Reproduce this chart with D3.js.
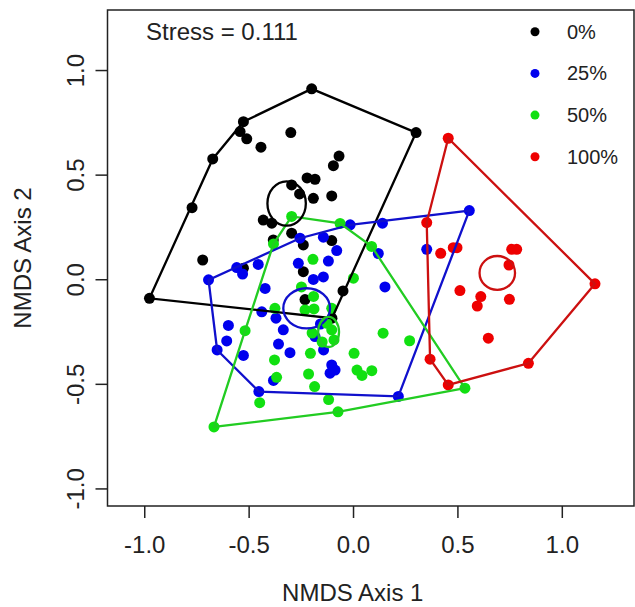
<!DOCTYPE html>
<html>
<head>
<meta charset="utf-8">
<script src="https://cdn.jsdelivr.net/npm/d3@7"></script>
<style>
  body { margin: 0; background: #fff; }
  svg text { font-family: "Liberation Sans", Arial, sans-serif; fill: #222; }
</style>
</head>
<body>
<svg id="chart" width="635" height="607"></svg>
<script>
// NMDS scores (axis 1, axis 2)
const groups = ['0%', '25%', '50%', '100%'];
const pointColors = ['#000000', '#0000ee', '#11e011', '#ee0000'];
const lineColors = ['#000000', '#1010cc', '#22cc22', '#cc1010'];

const black0 = [
  [-0.198, 0.910], [-0.525, 0.753], [-0.541, 0.706], [-0.509, 0.671], [-0.441, 0.631],
  [-0.298, 0.701], [-0.672, 0.575], [-0.067, 0.589], [-0.094, 0.543], [0.302, 0.701],
  [-0.220, 0.484], [-0.182, 0.478], [-0.294, 0.451], [-0.256, 0.408], [-0.190, 0.387],
  [-0.102, 0.398], [-0.771, 0.342], [-0.430, 0.283], [-0.389, 0.268], [-0.294, 0.220],
  [-0.238, 0.164], [-0.382, 0.188], [-0.102, 0.185], [-0.720, 0.092], [-0.525, 0.053],
  [-0.238, 0.036], [-0.048, -0.056], [-0.230, -0.097], [-0.975, -0.091], [-0.101, -0.186]
];
const blue25 = [
  [0.557, 0.328], [-0.014, 0.260], [0.141, 0.268], [-0.254, 0.196], [-0.142, 0.201],
  [-0.078, 0.137], [-0.118, 0.087], [0.121, 0.123], [0.153, -0.037], [0.353, 0.143],
  [-0.262, 0.076], [-0.454, 0.071], [-0.557, 0.056], [-0.529, 0.025], [-0.692, -0.003],
  [-0.421, -0.044], [-0.190, -0.001], [-0.142, 0.011], [-0.437, -0.156], [-0.369, -0.186],
  [-0.334, -0.242], [-0.357, -0.310], [-0.302, -0.351], [-0.182, -0.274], [-0.156, -0.214],
  [-0.141, -0.338], [-0.102, -0.410], [-0.086, -0.434], [-0.110, -0.449], [-0.597, -0.221],
  [-0.605, -0.295], [-0.651, -0.338], [-0.525, -0.364], [-0.381, -0.484], [-0.451, -0.537],
  [0.217, -0.560]
];
const green50 = [
  [-0.294, 0.300], [-0.062, 0.267], [-0.381, 0.169], [0.089, 0.157], [-0.192, 0.095],
  [0.002, 0.005], [-0.247, -0.037], [-0.189, -0.082], [-0.374, -0.139], [-0.230, -0.147],
  [-0.187, -0.142], [-0.102, -0.139], [-0.517, -0.246], [-0.125, -0.211], [-0.102, -0.242],
  [-0.091, -0.290], [-0.148, -0.300], [-0.196, -0.257], [0.144, -0.258], [0.271, -0.294],
  [0.005, -0.354], [-0.204, -0.354], [-0.376, -0.386], [-0.366, -0.469], [-0.213, -0.453],
  [-0.184, -0.513], [0.019, -0.434], [0.043, -0.460], [0.090, -0.437], [-0.117, -0.575],
  [-0.447, -0.590], [-0.072, -0.634], [-0.666, -0.706], [0.536, -0.521]
];
const red100 = [
  [0.353, 0.271], [0.420, 0.124], [0.480, 0.151], [0.498, 0.151], [0.760, 0.143],
  [0.784, 0.143], [0.747, 0.068], [0.512, -0.054], [0.612, -0.083], [0.595, -0.128],
  [0.749, -0.096], [0.648, -0.282], [1.159, -0.022], [0.369, -0.382], [0.840, -0.402],
  [0.456, 0.674], [0.456, -0.505]
];
const groupPoints = [black0, blue25, green50, red100];

// standard error ellipses: centre x, centre y, radius x, radius y
const ellipseCentres = [[-0.318, 0.362], [-0.222, -0.139], [-0.117, -0.252], [0.691, 0.030]];
const ellipseRadii = [[0.092, 0.106], [0.112, 0.096], [0.050, 0.072], [0.085, 0.081]];

const xTicks = [-1.0, -0.5, 0.0, 0.5, 1.0];
const yTicks = [-1.0, -0.5, 0.0, 0.5, 1.0];
const stressLabel = 'Stress = 0.111';

const svg = d3.select('#chart');
const box = { left: 107.5, right: 634, top: 10, bottom: 506 };

const x = d3.scaleLinear().domain([-1.176, 1.341]).range([box.left, 633]);
const y = d3.scaleLinear().domain([-1.084, 1.287]).range([box.bottom, box.top]);

// axes
const fmt = d => d.toFixed(1);
const xAxis = svg.append('g')
  .attr('transform', `translate(0,${box.bottom})`)
  .call(d3.axisBottom(x).tickValues(xTicks).tickFormat(fmt).tickSize(12).tickPadding(8));
xAxis.select('.domain').remove();
xAxis.selectAll('line').attr('stroke', '#222').attr('stroke-width', 1.5);
xAxis.selectAll('text').attr('font-size', 24).attr('fill', '#222')
  .attr('dy', null).attr('y', 47);

const yAxis = svg.append('g')
  .attr('transform', `translate(${box.left},0)`)
  .call(d3.axisLeft(y).tickValues(yTicks).tickFormat(fmt).tickSize(12));
yAxis.select('.domain').remove();
yAxis.selectAll('line').attr('stroke', '#222').attr('stroke-width', 1.5);
yAxis.selectAll('text').attr('font-size', 24).attr('fill', '#222')
  .attr('text-anchor', 'middle').attr('dy', null)
  .attr('x', 0).attr('y', -23.5)
  .attr('transform', 'rotate(-90)');

// plot frame
svg.append('rect')
  .attr('x', box.left).attr('y', box.top)
  .attr('width', box.right - box.left).attr('height', box.bottom - box.top)
  .attr('fill', 'none').attr('stroke', '#222').attr('stroke-width', 1.5);

// axis titles
svg.append('text')
  .attr('x', (box.left + box.right) / 2 - 18).attr('y', 601)
  .attr('text-anchor', 'middle').attr('font-size', 24)
  .text('NMDS Axis 1');
svg.append('text')
  .attr('transform', `translate(31,${(box.top + box.bottom) / 2}) rotate(-90)`)
  .attr('text-anchor', 'middle').attr('font-size', 24)
  .text('NMDS Axis 2');

// points, drawn group by group so later groups sit on top
const plot = svg.append('g');
groupPoints.forEach((pts, i) => {
  plot.append('g').selectAll('circle')
    .data(pts)
    .enter()
    .append('circle')
    .attr('cx', d => x(d[0]))
    .attr('cy', d => y(d[1]))
    .attr('r', 5.5)
    .attr('fill', pointColors[i]);
});

// convex hulls
const line = d3.line().x(d => x(d[0])).y(d => y(d[1]));
groupPoints.forEach((pts, i) => {
  const hull = d3.polygonHull(pts);
  plot.append('path')
    .attr('d', line(hull) + 'Z')
    .attr('fill', 'none')
    .attr('stroke', lineColors[i])
    .attr('stroke-width', 2.3);
});

// ellipses
ellipseCentres.forEach((c, i) => {
  plot.append('ellipse')
    .attr('cx', x(c[0])).attr('cy', y(c[1]))
    .attr('rx', x(c[0] + ellipseRadii[i][0]) - x(c[0]))
    .attr('ry', y(c[1]) - y(c[1] + ellipseRadii[i][1]))
    .attr('fill', 'none')
    .attr('stroke', lineColors[i])
    .attr('stroke-width', 2.3);
});

// stress label
svg.append('text')
  .attr('x', 146).attr('y', 40)
  .attr('font-size', 24)
  .text(stressLabel);

// legend
const legend = svg.append('g');
groups.forEach((g, i) => {
  const ly = 31.7 + i * 41.7;
  legend.append('circle')
    .attr('cx', 535).attr('cy', ly).attr('r', 4.5)
    .attr('fill', pointColors[i]);
  legend.append('text')
    .attr('x', 567).attr('y', ly + 7)
    .attr('font-size', 20)
    .text(g);
});
</script>
</body>
</html>
